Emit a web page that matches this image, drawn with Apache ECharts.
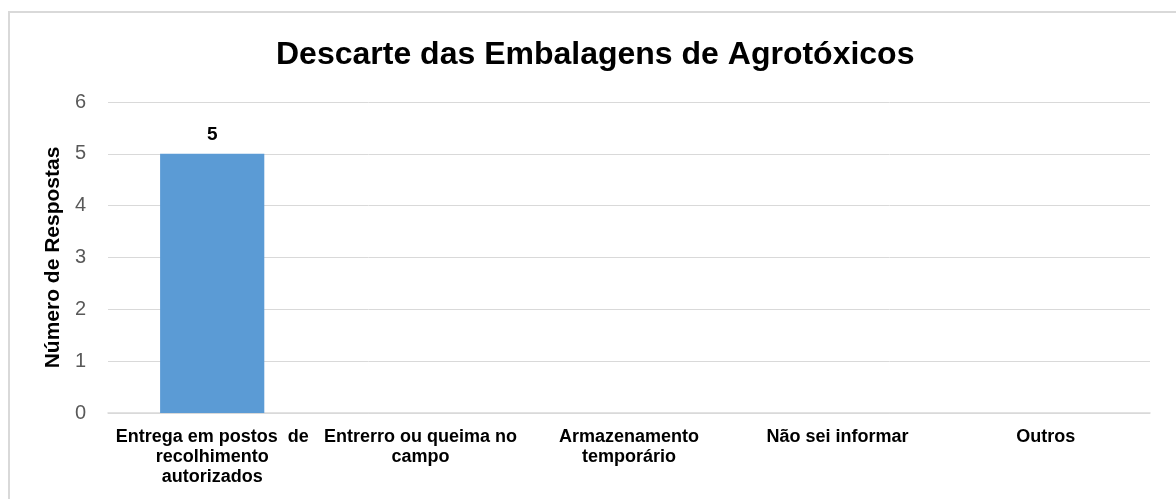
<!DOCTYPE html>
<html>
<head>
<meta charset="utf-8">
<script src="https://cdn.jsdelivr.net/npm/echarts@6/dist/echarts.min.js"></script>
<style>
  html, body { margin: 0; padding: 0; background: #fff; }
  #chart { width: 1176px; height: 499px; }
  #frame { position: absolute; left: 8px; top: 11px; width: 1180px; height: 500px;
           border-left: 2px solid #d9d9d9; border-top: 2px solid #d9d9d9; pointer-events: none; }
</style>
</head>
<body>
<div id="chart"></div>
<div id="frame"></div>
<script>
  const title = 'Descarte das Embalagens de Agrotóxicos';
  const categories = [
    'Entrega em postos  de\nrecolhimento\nautorizados',
    'Entrerro ou queima no\ncampo',
    'Armazenamento\ntemporário',
    'Não sei informar',
    'Outros'
  ];
  const respostas = [5, 0, 0, 0, 0];

  const myChart = echarts.init(document.getElementById('chart'));
  myChart.setOption({
    animation: false,
    title: {
      text: title,
      left: 271,
      top: 34,
      textStyle: { fontFamily: 'Liberation Sans', fontSize: 32, fontWeight: 'bold', color: '#000' }
    },
    grid: { left: 108, right: 26, top: 102, bottom: 86 },
    xAxis: {
      type: 'category',
      data: categories,
      axisTick: { show: false },
      axisLine: { lineStyle: { color: '#d9d9d9', width: 1.5 } },
      axisLabel: {
        interval: 0,
        margin: 14,
        fontFamily: 'Liberation Sans',
        fontSize: 18,
        fontWeight: 'bold',
        lineHeight: 20,
        color: '#000'
      }
    },
    yAxis: {
      type: 'value',
      min: 0,
      max: 6,
      interval: 1,
      name: 'Número de Respostas',
      nameLocation: 'middle',
      nameGap: 42,
      nameTextStyle: { fontFamily: 'Liberation Sans', fontSize: 21, fontWeight: 'bold', color: '#000' },
      axisLine: { show: false },
      axisTick: { show: false },
      splitLine: { lineStyle: { color: '#d9d9d9', width: 1 } },
      axisLabel: { margin: 22, fontFamily: 'Liberation Sans', fontSize: 20, color: '#595959' }
    },
    series: [
      {
        name: 'Respostas',
        type: 'bar',
        data: respostas.map(v => ({
          value: v,
          label: { show: v > 0 }
        })),
        barWidth: '50%',
        itemStyle: { color: '#5b9bd5' },
        label: {
          position: 'top',
          distance: 10,
          fontFamily: 'Liberation Sans',
          fontSize: 19,
          fontWeight: 'bold',
          color: '#000'
        }
      }
    ]
  });
</script>
</body>
</html>
